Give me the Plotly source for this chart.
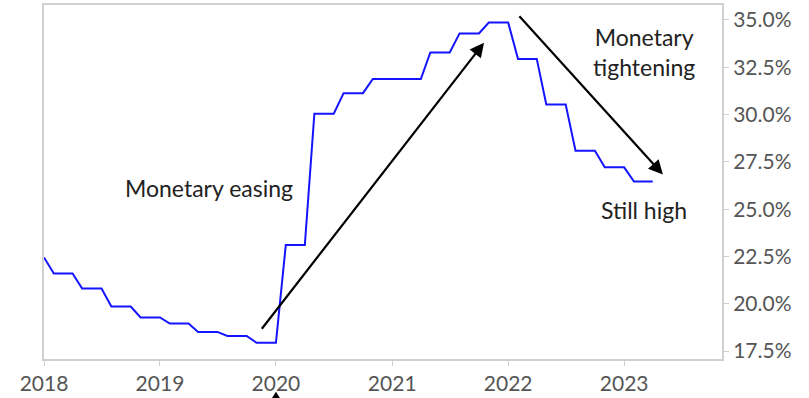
import pandas as pd
import plotly.graph_objects as go

dates = pd.date_range("2018-01-01", periods=64, freq="MS")
rate = [22.45,
        21.6, 21.6, 21.6,
        20.8, 20.8, 20.8,
        19.85, 19.85, 19.85,
        19.28, 19.28, 19.28,
        18.95, 18.95, 18.95,
        18.51, 18.51, 18.51,
        18.30, 18.30, 18.30,
        17.94, 17.94, 17.94,
        23.1, 23.1, 23.1,
        30.04, 30.04, 30.04,
        31.13, 31.13, 31.13,
        31.88, 31.88, 31.88, 31.88, 31.88, 31.88,
        33.28, 33.28, 33.28,
        34.29, 34.29, 34.29,
        34.86, 34.86, 34.86,
        32.94, 32.94, 32.94,
        30.53, 30.53, 30.53,
        28.09, 28.09, 28.09,
        27.21, 27.21, 27.21,
        26.46, 26.46, 26.46]

y_ticks = [17.5, 20.0, 22.5, 25.0, 27.5, 30.0, 32.5, 35.0]
y_tick_text = ["17.5%", "20.0%", "22.5%", "25.0%", "27.5%", "30.0%", "32.5%", "35.0%"]
x_ticks = ["2018-01-01", "2019-01-01", "2020-01-01", "2021-01-01", "2022-01-01", "2023-01-01"]
x_tick_text = ["2018", "2019", "2020", "2021", "2022", "2023"]
x_range = ["2018-01-01", "2023-11-05"]

FONT = "Lato"
W, H = 809, 398
M = dict(l=44, r=87, t=3, b=38)

fig = go.Figure()
fig.add_trace(go.Scatter(x=dates, y=rate, mode="lines",
                         line=dict(color="#1414ff", width=2), hoverinfo="skip"))

axis_common = dict(showgrid=False, zeroline=False, showline=True, linecolor="#d0d0d0",
                   linewidth=2, mirror=True, ticks="outside", tickcolor="#d0d0d0",
                   ticklen=5, tickwidth=1,
                   tickfont=dict(family=FONT, size=21, color="#555555"))

fig.update_layout(
    width=W, height=H,
    margin=M,
    plot_bgcolor="white", paper_bgcolor="white",
    showlegend=False,
    xaxis=dict(range=x_range, tickvals=x_ticks, ticktext=x_tick_text, **axis_common),
    yaxis=dict(range=[17.08, 35.79], side="right", tickvals=y_ticks, ticktext=y_tick_text,
               **axis_common),
)

txt = dict(family=FONT, size=23, color="#222222")
fig.add_annotation(x="2019-06-03", y=26.1, text="Monetary easing", showarrow=False, font=txt)
fig.add_annotation(x="2023-03-03", y=33.3, text="Monetary<br>tightening", showarrow=False,
                   font=txt)
fig.add_annotation(x="2023-03-03", y=24.94, text="Still high", showarrow=False, font=txt)

arrow = dict(showarrow=True, arrowhead=2, arrowsize=1.3, arrowwidth=2.2, arrowcolor="black",
             axref="x", ayref="y", text="", standoff=0)
fig.add_annotation(x="2021-10-17", y=33.8, ax="2019-11-14", ay=18.6, **arrow)
fig.add_annotation(x="2023-05-03", y=26.83, ax="2022-02-01", ay=35.27, **arrow)

# tip of a further arrow peeking in below the 2020 label (mostly cut off by the frame)
pw = W - M["l"] - M["r"]
ph = H - M["t"] - M["b"]
r0, r1 = pd.Timestamp(x_range[0]), pd.Timestamp(x_range[1])
fx = (pd.Timestamp("2020-01-01") - r0) / (r1 - r0)
tip_y = -33 / ph
base_y = -41 / ph
half = 5 / pw
fig.add_shape(type="path", xref="paper", yref="paper",
              path=f"M {fx} {tip_y} L {fx - half} {base_y} L {fx + half} {base_y} Z",
              fillcolor="black", line=dict(width=0))

fig.write_html("out.html")
